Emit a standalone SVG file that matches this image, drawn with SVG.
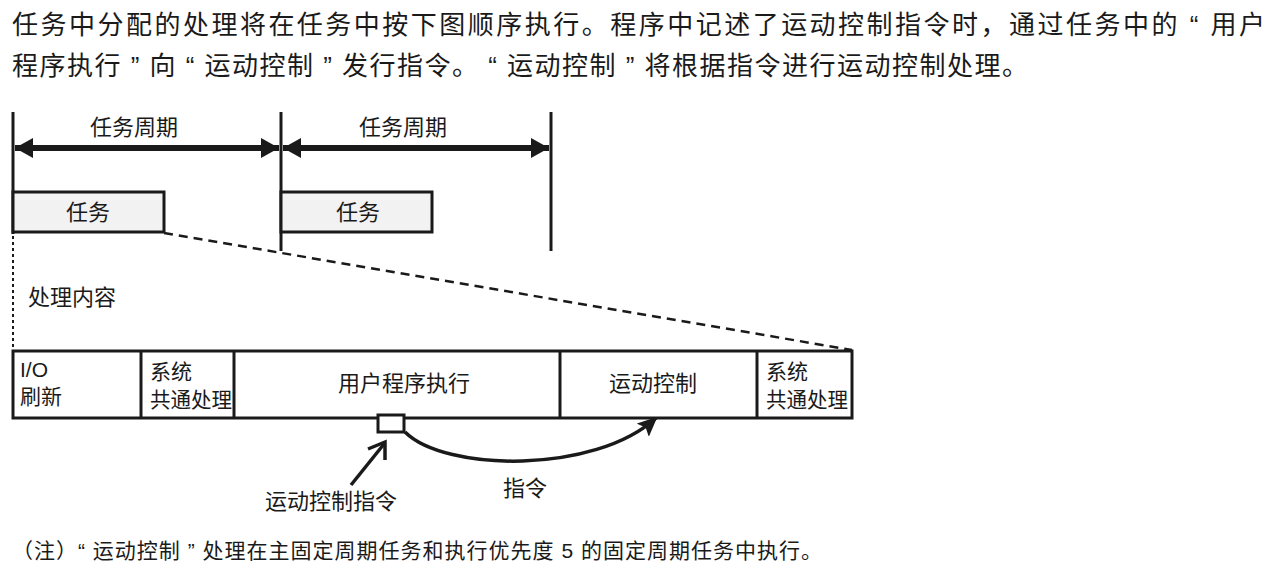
<svg xmlns="http://www.w3.org/2000/svg" width="1271" height="567" viewBox="0 0 1271 567">
<style>
text{font-family:"Liberation Sans","Noto Sans CJK SC",sans-serif;fill:#1a1a1a}
.t{font-size:22px}
.s{font-size:21px}
.ln{stroke:#1a1a1a;fill:none}
.box{fill:#fff;stroke:#1a1a1a;stroke-width:3}
</style>
<defs>
<marker id="ah" viewBox="0 0 18 20" refX="18" refY="10" markerWidth="18" markerHeight="20" markerUnits="userSpaceOnUse" orient="auto-start-reverse">
<path d="M0,0 L18,10 L0,20 Z" fill="#1a1a1a"/>
</marker>
<marker id="ah2" viewBox="0 0 20 18" refX="18" refY="9" markerWidth="20" markerHeight="18" markerUnits="userSpaceOnUse" orient="auto">
<path d="M0,0 L20,9 L0,18 L4,9 Z" fill="#1a1a1a"/>
</marker>
</defs>
<g id="header">
<text x="12" y="34" style="font-size:26px" textLength="1253" lengthAdjust="spacing">任务中分配的处理将在任务中按下图顺序执行。程序中记述了运动控制指令时，通过任务中的 “ 用户</text>
<text x="12" y="75" style="font-size:26px" textLength="1016" lengthAdjust="spacing">程序执行 ” 向 “ 运动控制 ” 发行指令。 “ 运动控制 ” 将根据指令进行运动控制处理。</text>
</g>
<g id="connectors">
<line class="ln" x1="13" y1="112" x2="13" y2="234" stroke-width="3"/>
<line class="ln" x1="13" y1="236" x2="13" y2="350" stroke-width="2" stroke-dasharray="3,3"/>
<line class="ln" x1="281" y1="112" x2="281" y2="251" stroke-width="3"/>
<line class="ln" x1="551" y1="112" x2="551" y2="251" stroke-width="3"/>
<line class="ln" x1="15" y1="148" x2="279" y2="148" stroke-width="6" marker-start="url(#ah)" marker-end="url(#ah)"/>
<line class="ln" x1="283" y1="148" x2="549" y2="148" stroke-width="6" marker-start="url(#ah)" marker-end="url(#ah)"/>
<line class="ln" x1="164" y1="233" x2="852" y2="350" stroke-width="2.5" stroke-dasharray="9,6"/>
<path class="ln" d="M405,432 C445,472 595,474 656,418" stroke-width="3.5" marker-end="url(#ah2)"/>
<line class="ln" x1="351" y1="485" x2="384" y2="444" stroke-width="3.5"/>
<polyline class="ln" points="368,449 385,442 385,460" stroke-width="3.5" stroke-linejoin="miter"/>
</g>
<g id="task1">
<rect x="13" y="192" width="151" height="40" fill="#f2f2f2" stroke="#1a1a1a" stroke-width="3"/>
<text class="t" x="88" y="220" text-anchor="middle">任务</text>
</g>
<g id="task2">
<rect x="281" y="192" width="151" height="40" fill="#f2f2f2" stroke="#1a1a1a" stroke-width="3"/>
<text class="t" x="358" y="220" text-anchor="middle">任务</text>
</g>
<g id="labels">
<text class="t" x="134" y="135" text-anchor="middle">任务周期</text>
<text class="t" x="403" y="135" text-anchor="middle">任务周期</text>
<text class="t" x="28" y="305">处理内容</text>
<text class="t" x="331" y="509" text-anchor="middle">运动控制指令</text>
<text class="t" x="525" y="496" text-anchor="middle">指令</text>
</g>
<g id="bar">
<rect x="13" y="351" width="839" height="67" fill="#fff" stroke="#1a1a1a" stroke-width="3"/>
<line class="ln" x1="141" y1="351" x2="141" y2="418" stroke-width="3"/>
<line class="ln" x1="234" y1="351" x2="234" y2="418" stroke-width="3"/>
<line class="ln" x1="560" y1="351" x2="560" y2="418" stroke-width="3"/>
<line class="ln" x1="757" y1="351" x2="757" y2="418" stroke-width="3"/>
</g>
<g id="io-refresh">
<text class="s" x="20" y="377">I/O</text>
<text class="s" x="20" y="404">刷新</text>
</g>
<g id="sys1">
<text class="s" x="150" y="379">系统</text>
<text class="s" x="150" y="407" textLength="82" lengthAdjust="spacingAndGlyphs">共通处理</text>
</g>
<g id="user-prog">
<text class="t" x="404" y="391" text-anchor="middle">用户程序执行</text>
</g>
<g id="motion">
<text class="t" x="653" y="391" text-anchor="middle">运动控制</text>
</g>
<g id="sys2">
<text class="s" x="766" y="379">系统</text>
<text class="s" x="766" y="407" textLength="82" lengthAdjust="spacingAndGlyphs">共通处理</text>
</g>
<g id="cmd-box">
<rect class="box" x="378" y="415" width="26" height="17"/>
</g>
<g id="note">
<text x="12" y="558" style="font-size:21px" textLength="810" lengthAdjust="spacing">（注）“ 运动控制 ” 处理在主固定周期任务和执行优先度 5 的固定周期任务中执行。</text>
</g>
</svg>
